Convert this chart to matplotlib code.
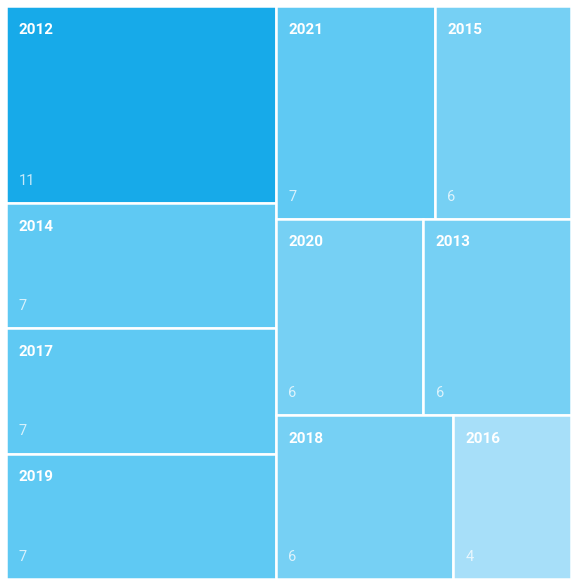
import matplotlib.pyplot as plt
from matplotlib.patches import Rectangle

years = ['2012', '2014', '2017', '2019', '2021', '2015', '2020', '2013', '2018', '2016']
counts = [11, 7, 7, 7, 7, 6, 6, 6, 6, 4]
# layout groups: left column, then right column split into rows
left_col = [0, 1, 2, 3]
right_rows = [[4, 5], [6, 7], [8, 9]]

colors = {11: '#17aae9', 7: '#5fc9f3', 6: '#76d0f4', 4: '#a7dff9'}

plt.rcParams['font.family'] = ['Roboto', 'DejaVu Sans']

fig = plt.figure(figsize=(5.71, 5.79), dpi=100)
ax = fig.add_axes([6 / 571, 0, 565 / 571, 573 / 579])
ax.set_xlim(0, 1)
ax.set_ylim(0, 1)
ax.axis('off')

total = sum(counts)
left_sum = sum(counts[i] for i in left_col)
left_w = left_sum / total

rects = {}
y = 1.0
for i in left_col:
    h = counts[i] / left_sum
    rects[i] = (0, y - h, left_w, h)
    y -= h

right_sum = total - left_sum
y = 1.0
for row in right_rows:
    row_sum = sum(counts[i] for i in row)
    h = row_sum / right_sum
    x = left_w
    for i in row:
        w = (1 - left_w) * counts[i] / row_sum
        rects[i] = (x, y - h, w, h)
        x += w
    y -= h

for i, (x, y0, w, h) in rects.items():
    ax.add_patch(Rectangle((x, y0), w, h, facecolor=colors[counts[i]],
                           edgecolor='white', linewidth=1.8))
    ax.annotate(years[i], (x, y0 + h), xytext=(9, -17), textcoords='offset points',
                ha='left', va='center', fontsize=11, fontweight='bold', color='white')
    ax.annotate(str(counts[i]), (x, y0), xytext=(9, 16), textcoords='offset points',
                ha='left', va='center', fontsize=10.5, color='white', alpha=0.75)

fig.savefig('out.png', dpi=100)
